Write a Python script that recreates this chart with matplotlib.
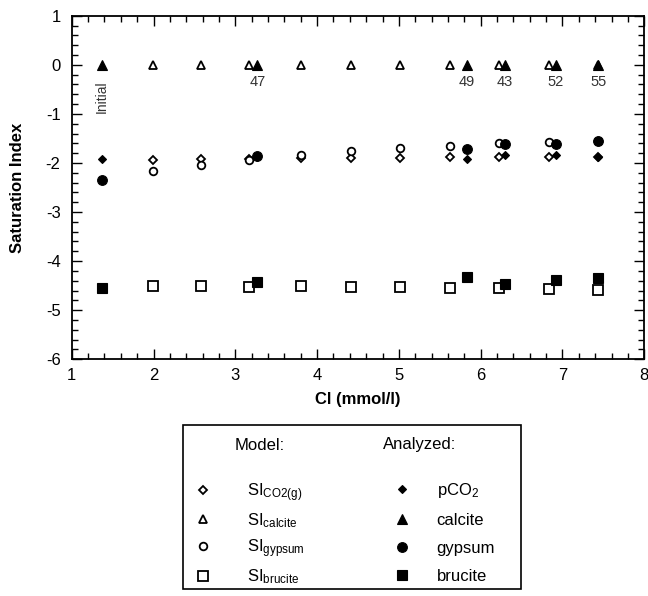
import matplotlib
matplotlib.use("Agg")
import matplotlib.pyplot as plt
from matplotlib.patches import Rectangle
from matplotlib.ticker import MultipleLocator

plt.rcParams["font.family"] = ["Liberation Sans", "DejaVu Sans"]
plt.rcParams["mathtext.fontset"] = "custom"
plt.rcParams["mathtext.rm"] = "Liberation Sans"
plt.rcParams["mathtext.it"] = "Liberation Sans:italic"
plt.rcParams["axes.unicode_minus"] = False

# --- data --------------------------------------------------------------------
# model saturation indices
model_cl = [1.99, 2.58, 3.17, 3.80, 4.41, 5.01, 5.62, 6.22, 6.83, 7.44]
model_co2 = [-1.93, -1.92, -1.92, -1.90, -1.90, -1.90, -1.88, -1.88, -1.87, -1.87]
model_calcite = [0, 0, 0, 0, 0, 0, 0, 0, 0, 0]
model_gypsum = [-2.17, -2.04, -1.94, -1.83, -1.76, -1.69, -1.65, -1.60, -1.57, -1.55]
model_brucite = [-4.50, -4.51, -4.53, -4.50, -4.53, -4.53, -4.54, -4.55, -4.57, -4.58]

# analyzed samples
meas_cl = [1.37, 3.27, 5.83, 6.30, 6.92, 7.44]
meas_pco2 = [-1.92, -1.87, -1.92, -1.83, -1.83, -1.87]
meas_calcite = [0, 0, 0, 0, 0, 0]
meas_gypsum = [-2.34, -1.85, -1.72, -1.62, -1.61, -1.55]
meas_brucite = [-4.55, -4.42, -4.33, -4.46, -4.38, -4.35]
meas_labels = ["Initial", "47", "49", "43", "52", "55"]

fig = plt.figure(figsize=(6.48, 5.96), dpi=100)
ax = fig.add_axes([71.7 / 648, 1 - 359.3 / 596,
                   (644.3 - 71.7) / 648, (359.3 - 15.7) / 596])

open_kw = dict(linestyle="none", markerfacecolor="white",
               markeredgecolor="black", markeredgewidth=1.3, zorder=3)
fill_kw = dict(linestyle="none", color="black", markeredgewidth=0.8, zorder=4)

h_co2, = ax.plot(model_cl, model_co2, marker="D", markersize=3.8,
                 label=r"SI$_{\mathrm{CO2(g)}}$", **open_kw)
h_cal, = ax.plot(model_cl, model_calcite, marker="^", markersize=6,
                 label=r"SI$_{\mathrm{calcite}}$", **open_kw)
h_gyp, = ax.plot(model_cl, model_gypsum, marker="o", markersize=5.5,
                 label=r"SI$_{\mathrm{gypsum}}$", **open_kw)
h_bru, = ax.plot(model_cl, model_brucite, marker="s", markersize=6.5,
                 label=r"SI$_{\mathrm{brucite}}$", **open_kw)

f_co2, = ax.plot(meas_cl, meas_pco2, marker="D", markersize=4.5,
                 label=r"pCO$_{2}$", **fill_kw)
f_cal, = ax.plot(meas_cl, meas_calcite, marker="^", markersize=6.5,
                 label="calcite", **fill_kw)
f_gyp, = ax.plot(meas_cl, meas_gypsum, marker="o", markersize=7,
                 label="gypsum", **fill_kw)
f_bru, = ax.plot(meas_cl, meas_brucite, marker="s", markersize=7.5,
                 label="brucite", **fill_kw)

# sample labels under the analyzed calcite points
for x, y, lab in zip(meas_cl, meas_calcite, meas_labels):
    if lab == "Initial":
        ax.annotate(lab, (x, y), xytext=(0, -11), textcoords="offset points",
                    ha="center", va="top", rotation=90, fontsize=10,
                    color="#333333")
    else:
        ax.annotate(lab, (x, y), xytext=(0, -7), textcoords="offset points",
                    ha="center", va="top", fontsize=10.5, color="#333333")

ax.set_xlim(1, 8)
ax.set_ylim(-6, 1)
ax.xaxis.set_major_locator(MultipleLocator(1))
ax.xaxis.set_minor_locator(MultipleLocator(0.2))
ax.yaxis.set_major_locator(MultipleLocator(1))
ax.yaxis.set_minor_locator(MultipleLocator(0.2))
ax.tick_params(which="both", direction="in", top=True, right=True,
               labelsize=12, width=1.0)
ax.tick_params(axis="x", pad=6)
ax.tick_params(axis="y", pad=8)
ax.tick_params(which="major", length=7)
ax.tick_params(which="minor", length=4)
for sp in ax.spines.values():
    sp.set_linewidth(1.3)

ax.set_xlabel("Cl (mmol/l)", fontsize=12, fontweight="bold", labelpad=7)
ax.set_ylabel("Saturation Index", fontsize=12, fontweight="bold", labelpad=15)

# legend box below the axes
fig.add_artist(Rectangle((183 / 648, 1 - 589 / 596), (521 - 183) / 648,
                         (589 - 425) / 596, transform=fig.transFigure,
                         fill=False, edgecolor="black", linewidth=1.2))
fig.text(235 / 648, 1 - 445 / 596, "Model:", fontsize=12, va="center")
fig.text(383 / 648, 1 - 445 / 596, "Analyzed:", fontsize=12, va="center")

fig.legend(handles=[h_co2, h_cal, h_gyp, h_bru],
           loc="upper left", bbox_to_anchor=(195 / 648, 1 - 481 / 596),
           frameon=False, fontsize=12, handlelength=1.0,
           handletextpad=2.1, labelspacing=0.45,
           borderaxespad=0, borderpad=0)
fig.legend(handles=[f_co2, f_cal, f_gyp, f_bru],
           loc="upper left", bbox_to_anchor=(394 / 648, 1 - 481 / 596),
           frameon=False, fontsize=12, handlelength=1.0,
           handletextpad=1.56, labelspacing=0.78,
           borderaxespad=0, borderpad=0)

fig.savefig("out.png", dpi=100)
